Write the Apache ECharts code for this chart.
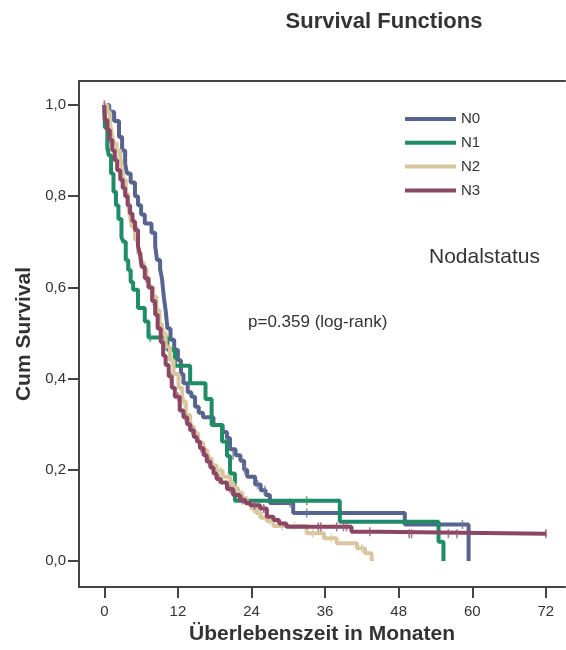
<!DOCTYPE html>
<html>
<head>
<meta charset="utf-8">
<script src="https://cdn.jsdelivr.net/npm/echarts@6/dist/echarts.min.js"></script>
<style>html,body{margin:0;padding:0;background:#fff}#c{width:566px;height:650px}</style>
</head>
<body>
<div id="c"></div>
<script>
// ---- data ----
var groups = ['N0', 'N1', 'N2', 'N3'];
var xTicks = [0, 12, 24, 36, 48, 60, 72];
var yTicks = [0, 0.2, 0.4, 0.6, 0.8, 1.0];

var n0Steps = [[0,1],[0.8,0.985],[1.6,0.965],[2.4,0.93],[2.9,0.9],[3.4,0.87],[3.7,0.85],[4.3,0.83],[5.0,0.80],[5.5,0.78],[6.0,0.76],[6.6,0.74],[7.7,0.72],[8.3,0.69],[8.6,0.66],[9.1,0.64],[9.4,0.62],[9.7,0.58],[10.0,0.55],[10.3,0.51],[10.8,0.485],[11.4,0.463],[12.0,0.44],[12.5,0.41],[12.9,0.39],[13.6,0.37],[14.2,0.36],[14.8,0.338],[15.4,0.325],[16.1,0.315],[17.8,0.298],[19.3,0.283],[20.0,0.27],[20.5,0.245],[21.4,0.232],[22.2,0.22],[22.8,0.2],[23.3,0.185],[24.6,0.168],[25.5,0.155],[26.3,0.145],[27.0,0.127],[30.8,0.105],[49.0,0.08],[59.4,0]];
var n0Cens = [[21.0,0.232],[22.9,0.2],[25.0,0.168],[26.2,0.155],[30.3,0.127],[33.0,0.105],[58.4,0.08]];

var n1Steps = [[0,1],[0.1,0.95],[0.5,0.91],[0.7,0.89],[1.1,0.85],[1.5,0.81],[1.9,0.78],[2.3,0.75],[2.8,0.71],[3.1,0.70],[3.5,0.66],[3.9,0.638],[4.3,0.612],[4.7,0.595],[5.5,0.555],[6.6,0.525],[7.2,0.49],[10.3,0.463],[11.5,0.428],[14.0,0.39],[16.5,0.355],[17.5,0.298],[19.2,0.262],[20.0,0.23],[20.5,0.192],[21.3,0.132],[38.4,0.086],[54.5,0.042],[55.3,0]];
var n1Cens = [[0.3,0.91],[3.7,0.66],[4.1,0.638],[7.5,0.49],[33.0,0.132]];

var n2Steps = [[0,1],[0.5,0.985],[0.9,0.96],[1.2,0.94],[1.5,0.916],[2.0,0.90],[2.6,0.887],[2.9,0.86],[3.1,0.836],[3.5,0.805],[3.9,0.777],[4.2,0.755],[4.5,0.733],[5.0,0.705],[5.5,0.675],[6.0,0.655],[6.4,0.64],[6.9,0.62],[7.3,0.60],[8.0,0.58],[8.5,0.55],[9.0,0.52],[9.4,0.50],[10.0,0.47],[10.7,0.44],[11.3,0.41],[12.1,0.38],[12.7,0.35],[13.3,0.32],[14.0,0.295],[14.6,0.28],[15.3,0.26],[16.1,0.243],[16.8,0.225],[17.5,0.21],[18.3,0.198],[19.3,0.185],[20.5,0.172],[21.0,0.16],[21.8,0.15],[22.5,0.138],[23.2,0.125],[24.0,0.115],[24.8,0.105],[25.5,0.095],[26.5,0.088],[27.6,0.077],[33.0,0.061],[35.8,0.05],[37.9,0.039],[41.2,0.028],[42.5,0.017],[43.6,0]];
var n2Cens = [[0,1],[1.0,0.96],[2.2,0.9],[3.0,0.86],[4.0,0.777],[5.2,0.705],[6.2,0.655],[7.6,0.60],[8.7,0.55],[9.8,0.50],[11.0,0.44],[13.0,0.35],[14.3,0.295],[15.0,0.28],[16.5,0.243],[17.2,0.225],[19.0,0.198],[21.5,0.16],[24.3,0.115],[25.2,0.105],[27.0,0.088],[29.0,0.077],[31.0,0.077],[34.0,0.061],[37.0,0.05],[42.0,0.028]];

var n3Steps = [[0,1],[0.1,0.967],[0.5,0.945],[0.9,0.923],[1.3,0.90],[1.7,0.879],[2.1,0.857],[2.6,0.836],[3.0,0.818],[3.4,0.80],[3.8,0.78],[4.2,0.762],[4.6,0.745],[5.0,0.726],[5.5,0.69],[5.8,0.675],[6.1,0.645],[6.6,0.62],[7.2,0.60],[7.8,0.57],[8.3,0.54],[8.7,0.51],[9.2,0.48],[9.6,0.45],[10.0,0.43],[10.5,0.405],[11.0,0.38],[11.5,0.36],[12.3,0.33],[12.9,0.315],[13.5,0.30],[14.0,0.287],[14.6,0.272],[15.1,0.262],[15.6,0.247],[16.2,0.232],[16.7,0.218],[17.3,0.205],[17.8,0.192],[18.3,0.18],[19.0,0.172],[20.0,0.158],[21.0,0.145],[22.1,0.134],[23.0,0.127],[23.8,0.122],[25.4,0.115],[26.5,0.097],[27.6,0.09],[28.5,0.082],[29.7,0.075],[40.3,0.064],[44.6,0.06],[72.1,0.06]];
var n3Cens = [[0,1],[1.0,0.923],[2.0,0.879],[3.2,0.818],[4.0,0.78],[5.3,0.726],[6.8,0.62],[8.0,0.57],[9.4,0.48],[10.8,0.405],[12.0,0.36],[13.2,0.315],[14.3,0.287],[15.8,0.247],[17.0,0.218],[18.7,0.18],[20.5,0.158],[22.5,0.134],[24.5,0.122],[26.0,0.115],[34.9,0.075],[35.3,0.075],[37.9,0.075],[39.0,0.075],[39.5,0.075],[43.3,0.064],[49.7,0.06],[50.1,0.06],[56.1,0.06],[57.5,0.06],[72.0,0.06]];

var colors = ['#56648f', '#1f8c66', '#d9c69f', '#8b4663'];
var censColors = ['#6a78a2', '#2f9a72', '#dccca6', '#9a5472'];
var stepsAll = [n0Steps, n1Steps, n2Steps, n3Steps];
var censAll = [n0Cens, n1Cens, n2Cens, n3Cens];

// ---- chart ----
var FONT = 'Liberation Sans, Arial, sans-serif';
var TXT = '#333';
var chart = echarts.init(document.getElementById('c'));
var series = [];
var order = [0, 1, 2, 3];
order.forEach(function (i) {
  series.push({
    name: groups[i], type: 'line', step: 'end', data: stepsAll[i],
    showSymbol: false, symbol: 'none', color: colors[i],
    itemStyle: { color: colors[i] },
    lineStyle: { color: colors[i], width: 4 }, z: 2 + i, silent: true
  });
});
order.forEach(function (i) {
  series.push({
    name: groups[i] + ' zensiert', type: 'scatter', data: censAll[i],
    symbol: 'rect', symbolSize: [1.6, 9],
    itemStyle: { color: censColors[i] }, z: 2 + i, silent: true
  });
});

var xMin = -4.125, xMax = 75.12;
var axisLineStyle = { color: '#444', width: 2 };
var option = {
  animation: false,
  backgroundColor: '#fff',
  textStyle: { fontFamily: FONT },
  title: {
    text: 'Survival Functions', left: 379, top: 6, textAlign: 'center',
    textStyle: { fontFamily: FONT, fontWeight: 'bold', fontSize: 22, color: TXT }
  },
  legend: {
    data: groups, orient: 'vertical', left: 400, top: 106,
    icon: 'rect', itemWidth: 51, itemHeight: 4, itemGap: 7.8,
    textStyle: { fontFamily: FONT, fontSize: 15, color: TXT, lineHeight: 16 },
    selectedMode: false
  },
  grid: { left: 79, top: 81, right: 1, bottom: 63, containLabel: false },
  xAxis: [{
    type: 'value', min: xMin, max: xMax, position: 'bottom',
    name: 'Überlebenszeit in Monaten', nameLocation: 'middle', nameGap: 34,
    nameTextStyle: { fontFamily: FONT, fontWeight: 'bold', fontSize: 21, color: TXT },
    axisLine: { show: true, onZero: false, lineStyle: axisLineStyle },
    axisTick: { show: true, length: 11, lineStyle: axisLineStyle, customValues: xTicks },
    axisLabel: { fontFamily: FONT, fontSize: 15, color: TXT, margin: 17, customValues: xTicks },
    splitLine: { show: false }
  }, {
    type: 'value', min: xMin, max: xMax, position: 'top',
    axisLine: { show: true, onZero: false, lineStyle: axisLineStyle },
    axisTick: { show: false }, axisLabel: { show: false }, splitLine: { show: false }
  }],
  yAxis: {
    type: 'value', min: -0.057, max: 1.0526,
    name: 'Cum Survival', nameLocation: 'middle', nameGap: 44, nameRotate: 90,
    nameTextStyle: { fontFamily: FONT, fontWeight: 'bold', fontSize: 21, color: TXT },
    axisLine: { show: true, onZero: false, lineStyle: axisLineStyle },
    axisTick: { show: true, length: 11, lineStyle: axisLineStyle, customValues: yTicks },
    axisLabel: {
      fontFamily: FONT, fontSize: 15, color: TXT, margin: 13, customValues: yTicks,
      formatter: function (v) { return v.toFixed(1).replace('.', ','); }
    },
    splitLine: { show: false }
  },
  graphic: [
    { type: 'text', left: 429, top: 247, style: { text: 'Nodalstatus', fontFamily: FONT, fontSize: 21, fill: TXT } },
    { type: 'text', left: 248, top: 314, style: { text: 'p=0.359 (log-rank)', fontFamily: FONT, fontSize: 17, fill: TXT } }
  ],
  series: series
};
chart.setOption(option);
</script>
</body>
</html>
